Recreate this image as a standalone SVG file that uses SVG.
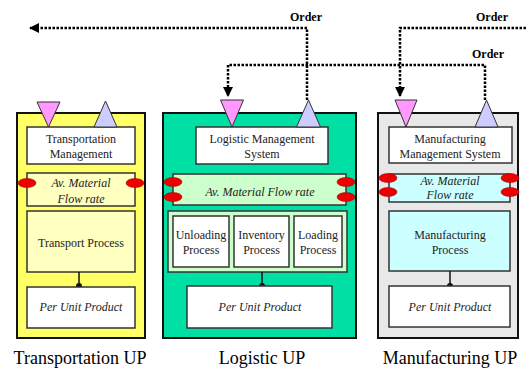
<svg xmlns="http://www.w3.org/2000/svg" width="526" height="368" viewBox="0 0 526 368">
<style>
text{font-family:"Liberation Serif","Times New Roman",serif;fill:#222;text-anchor:middle}
.t{font-size:12px}
.i{font-size:12px;font-style:italic}
.lbl{font-size:18px;fill:#000}
.ord{font-size:12px;font-weight:bold;fill:#000}
.outer{stroke:#111;stroke-width:2}
.inner{stroke:#333;stroke-width:1.5}
.w{fill:#fff}
.ell{fill:#ee0000;stroke:#900;stroke-width:0.5}
.tin{fill:#ff99ff;stroke:#333;stroke-width:1}
.tout{fill:#ccccff;stroke:#333;stroke-width:1}
.dot{fill:none;stroke:#000;stroke-width:2.5;stroke-dasharray:2.5,1.5}
.stem{stroke:#111;stroke-width:1.5}
</style>
<defs>
<marker id="ah" viewBox="0 0 10 10" refX="9" refY="5" markerWidth="4" markerHeight="4" orient="auto" markerUnits="strokeWidth">
<path d="M0,0L10,5L0,10z" fill="#000"/>
</marker>
</defs>

<g id="connectors">
<path class="dot" d="M307,100V28H30" marker-end="url(#ah)"/>
<path class="dot" d="M526,28H400V96" marker-end="url(#ah)"/>
<path class="dot" d="M485,100V65H228V96" marker-end="url(#ah)"/>
<text class="ord" x="306" y="21">Order</text>
<text class="ord" x="492" y="21">Order</text>
<text class="ord" x="488" y="58">Order</text>
</g>

<g id="transportation">
<rect class="outer" x="17" y="113" width="128" height="225" fill="#ffff66"/>
<rect class="inner w" x="27" y="127" width="108" height="37"/>
<text class="t" x="81" y="143">Transportation</text>
<text class="t" x="81" y="158">Management</text>
<rect class="inner" x="27" y="173" width="108" height="33" fill="#ffffc0"/>
<text class="i" x="81" y="187">Av. Material</text>
<text class="i" x="81" y="203">Flow rate</text>
<ellipse class="ell" cx="27" cy="183" rx="9" ry="4.5"/>
<ellipse class="ell" cx="135" cy="183" rx="9" ry="4.5"/>
<rect class="inner" x="27" y="211" width="108" height="61" fill="#ffffc0"/>
<text class="t" x="81" y="247">Transport Process</text>
<line class="stem" x1="79" y1="272" x2="79" y2="286"/>
<circle cx="79" cy="286" r="3" fill="#111"/>
<rect class="inner w" x="27" y="287" width="108" height="41"/>
<text class="i" x="81" y="311">Per Unit Product</text>
<path class="tin" d="M37,102H60L48.5,127z"/>
<path class="tout" d="M105.5,101L117,127H94z"/>
<text class="lbl" x="80" y="364">Transportation UP</text>
</g>

<g id="logistic">
<rect class="outer" x="163" y="113" width="193" height="225" fill="#00e0a4"/>
<rect class="inner w" x="196" y="127" width="132" height="37"/>
<text class="t" x="262" y="143">Logistic Management</text>
<text class="t" x="262" y="158">System</text>
<rect class="inner" x="173" y="174" width="173" height="31" fill="#ccffcc"/>
<text class="i" x="260" y="196">Av. Material Flow rate</text>
<ellipse class="ell" cx="173" cy="182" rx="9" ry="4.5"/>
<ellipse class="ell" cx="173" cy="197" rx="9" ry="4.5"/>
<ellipse class="ell" cx="346" cy="182" rx="9" ry="4.5"/>
<ellipse class="ell" cx="346" cy="197" rx="9" ry="4.5"/>
<rect class="inner" x="168" y="211" width="179" height="61" fill="#ccffcc"/>
<rect class="inner w" x="173" y="216" width="56" height="51"/>
<text class="t" x="201" y="239">Unloading</text>
<text class="t" x="201" y="254">Process</text>
<rect class="inner w" x="234" y="216" width="55" height="51"/>
<text class="t" x="261.5" y="239">Inventory</text>
<text class="t" x="261.5" y="254">Process</text>
<rect class="inner w" x="294" y="216" width="48" height="51"/>
<text class="t" x="318" y="239">Loading</text>
<text class="t" x="318" y="254">Process</text>
<line class="stem" x1="262" y1="272" x2="262" y2="286"/>
<circle cx="262" cy="286" r="3" fill="#111"/>
<rect class="inner w" x="187" y="286" width="145" height="42"/>
<text class="i" x="260" y="311">Per Unit Product</text>
<path class="tin" d="M220.5,100H243.5L232,127z"/>
<path class="tout" d="M308.5,100L320.5,127H296.5z"/>
<text class="lbl" x="262" y="364">Logistic UP</text>
</g>

<g id="manufacturing">
<rect class="outer" x="378" y="113" width="140" height="225" fill="#e8e8e8"/>
<rect class="inner w" x="389" y="127" width="123" height="36"/>
<text class="t" x="450" y="143">Manufacturing</text>
<text class="t" x="450" y="158">Management System</text>
<rect class="inner" x="389" y="174" width="121" height="28" fill="#ccffff"/>
<text class="i" x="450" y="185">Av. Material</text>
<text class="i" x="450" y="199">Flow rate</text>
<ellipse class="ell" cx="388" cy="178" rx="9" ry="4.5"/>
<ellipse class="ell" cx="388" cy="192" rx="9" ry="4.5"/>
<ellipse class="ell" cx="510" cy="178" rx="9" ry="4.5"/>
<ellipse class="ell" cx="510" cy="192" rx="9" ry="4.5"/>
<rect class="inner" x="389" y="211" width="121" height="60" fill="#ccffff"/>
<text class="t" x="450" y="239">Manufacturing</text>
<text class="t" x="450" y="254">Process</text>
<line class="stem" x1="450" y1="271" x2="450" y2="286"/>
<circle cx="450" cy="286" r="3" fill="#111"/>
<rect class="inner w" x="389" y="286" width="121" height="41"/>
<text class="i" x="450" y="311">Per Unit Product</text>
<path class="tin" d="M395,100H417L406,127z"/>
<path class="tout" d="M486.5,100L498,127H475z"/>
<text class="lbl" x="450" y="364">Manufacturing UP</text>
</g>
</svg>
